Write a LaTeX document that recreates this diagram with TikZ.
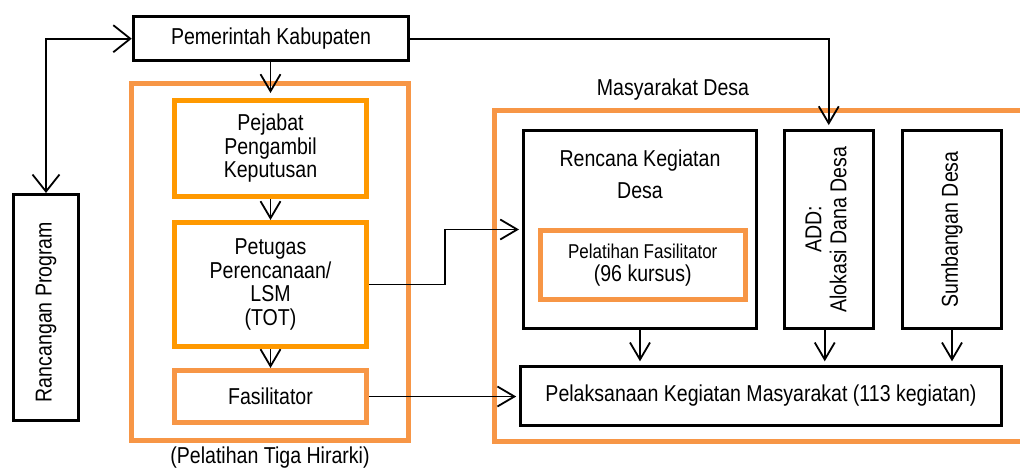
\documentclass[tikz,border=0pt]{standalone}
\usepackage{fontspec}
\setmainfont{Liberation Sans}[FakeStretch=0.85]
\usetikzlibrary{arrows.meta}
\definecolor{frameorange}{HTML}{F79646}
\definecolor{brightorange}{HTML}{FF9900}

\tikzset{
  every node/.style={font=\fontsize{23}{23.5}\selectfont, inner sep=0pt},
  blackbox/.style={draw=black, line width=3pt, rectangle},
  orangebox/.style={draw=frameorange, line width=5pt, rectangle},
  brightbox/.style={draw=brightorange, line width=5pt, rectangle},
  tipN/.tip={Straight Barb[length=17pt,width=20pt]},
  tipW/.tip={Straight Barb[length=17pt,width=27pt]},
  conn/.style={line width=1.8pt, -tipN},
}

\begin{document}
\begin{tikzpicture}[x=1pt,y=-1pt]
\useasboundingbox (0,0) rectangle (1020,471);
\clip (0,0) rectangle (1020,471);

% group frames
\node[orangebox, minimum width=277pt, minimum height=357pt] (tiga) at (270,262) {};
\node (tigaT) at (270,458) {(Pelatihan Tiga Hirarki)};
\node[orangebox, minimum width=560pt, minimum height=331pt] (desa) at (774,276) {};
\node (desaT) at (673,90) {Masyarakat Desa};

% top and left
\node[blackbox, minimum width=275.5pt, minimum height=44.5pt] (pem) at (271,38.7) {Pemerintah Kabupaten};
\node[blackbox, minimum width=65pt, minimum height=226.5pt] (ran) at (46,307.7) {};
\node[rotate=90] (ranT) at (46,312) {Rancangan Program};

% training hierarchy
\node[brightbox, minimum width=192pt, minimum height=96pt, align=center] (pej) at (270.5,148.5) {Pejabat\\Pengambil\\Keputusan};
\node[brightbox, minimum width=192pt, minimum height=124pt, align=center] (pet) at (270.5,284.5) {Petugas\\Perencanaan/\\LSM\\(TOT)};
\node[orangebox, minimum width=192pt, minimum height=52pt] (fas) at (270.5,396.5) {Fasilitator};

% village side
\node[blackbox, minimum width=233pt, minimum height=198pt] (ren) at (640,229.5) {};
\node[align=center, font=\fontsize{23}{32}\selectfont] (renT) at (640,174) {Rencana Kegiatan\\Desa};
\node[orangebox, minimum width=204.5pt, minimum height=68.5pt, align=center, font=\fontsize{20}{23}\selectfont] (pf) at (642.75,264.75) {Pelatihan Fasilitator\\{\fontsize{23}{23}\selectfont (96 kursus)}};
\node[blackbox, minimum width=88.5pt, minimum height=198pt, font=\fontsize{23}{25}\selectfont] (add) at (828.75,229.6) {\rotatebox{90}{\begin{tabular}{@{}c@{}}ADD:\\Alokasi Dana Desa\end{tabular}}};
\node[blackbox, minimum width=98.5pt, minimum height=198pt] (sum) at (952,229.6) {\rotatebox{90}{Sumbangan Desa}};
\node[blackbox, minimum width=480.6pt, minimum height=58.2pt] (pel) at (761,395.9) {Pelaksanaan Kegiatan Masyarakat (113 kegiatan)};

% connectors
\draw[line width=1.8pt, tipW-tipW] (pem.west) -| (ran.north);
\draw[conn, shorten >=4pt] (pem.east) -| (add.north);
\draw[conn, shorten >=5pt] (pej.north |- pem.south) -- (pej.north);
\draw[conn] (pej.south) -- (pet.north);
\draw[conn] (pet.south) -- (fas.north);
\draw[conn, shorten >=3pt] (pet.east) -- ++(76,0) |- (ren.west);
\draw[conn, shorten >=3pt] (fas.east) -- (fas.east -| pel.west);
\draw[conn, shorten >=4pt] (ren.south) -- (ren.south |- pel.north);
\draw[conn, shorten >=4pt] ([xshift=-4pt]add.south) -- ([xshift=-4pt]add.south |- pel.north);
\draw[conn, shorten >=4pt] (sum.south) -- (sum.south |- pel.north);
\end{tikzpicture}
\end{document}
